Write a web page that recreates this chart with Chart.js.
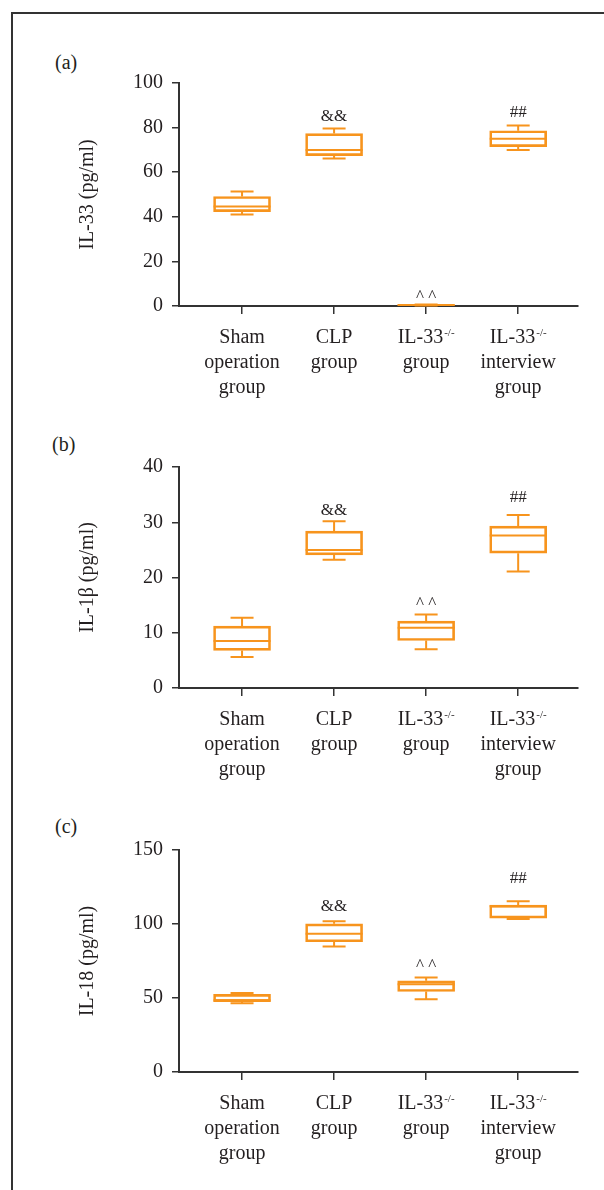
<!DOCTYPE html>
<html>
<head>
<meta charset="utf-8">
<script src="https://cdn.jsdelivr.net/npm/chart.js@4.4.1/dist/chart.umd.min.js"></script>
<style>
  body { margin: 0; background: #fff; width: 604px; height: 1190px; overflow: hidden; position: relative; }
  canvas { position: absolute; left: 0; }
  .frame { position: absolute; left: 11px; top: 12px; right: 0; bottom: 0; border-top: 2px solid #333; border-left: 2px solid #333; }
  .tag { position: absolute; font: 20px 'Liberation Serif', serif; color: #231f20; }
</style>
</head>
<body>
<div class="frame"></div>
<div class="tag" style="left:55px;top:51px">(a)</div>
<div class="tag" style="left:52px;top:433px">(b)</div>
<div class="tag" style="left:55px;top:815px">(c)</div>
<canvas id="chartA" width="604" height="410" style="top:0px"></canvas>
<canvas id="chartB" width="604" height="400" style="top:400px"></canvas>
<canvas id="chartC" width="604" height="400" style="top:790px"></canvas>
<script>
// group names, '|' marks the superscript part
const groupLines = [
    ['Sham', 'operation', 'group'],
    ['CLP', 'group'],
    ['IL-33|-/-', 'group'],
    ['IL-33|-/-', 'interview', 'group']
]

// (a) IL-33
const il33Min = [41.0, 66.1, 0.2, 70.0]
const il33Q1 = [42.3, 67.4, 0.3, 71.5]
const il33Med = [44.6, 70.0, 0.4, 75.0]
const il33Q3 = [49.1, 77.3, 0.6, 78.6]
const il33Max = [51.3, 79.6, 0.7, 80.9]
const il33Marks = ['', '&&', '^ ^', '##']
const il33MarkY = [null, 82.9, 2.1, 84.9]

// (b) IL-1β
const il1bMin = [5.6, 23.2, 7.0, 21.1]
const il1bQ1 = [6.8, 24.1, 8.6, 24.4]
const il1bMed = [8.5, 25.0, 10.9, 27.6]
const il1bQ3 = [11.2, 28.4, 12.1, 29.3]
const il1bMax = [12.7, 30.2, 13.3, 31.3]
const il1bMarks = ['', '&&', '^ ^', '##']
const il1bMarkY = [null, 31.4, 14.4, 33.7]

// (c) IL-18
const il18Min = [46.5, 84.8, 49.2, 103.4]
const il18Q1 = [47.5, 88.0, 54.4, 104.0]
const il18Med = [48.5, 93.4, 59.3, 112.0]
const il18Q3 = [52.5, 100.1, 61.6, 112.8]
const il18Max = [53.3, 101.8, 63.9, 115.3]
const il18Marks = ['', '&&', '^ ^', '##']
const il18MarkY = [null, 108.9, 68.6, 127.9]

const orange = '#f7941d'
const ink = '#231f20'
const axisCol = '#333'
const serif = "'Liberation Serif', serif"

// whiskers, medians, significance marks, and group labels
const boxPlugin = {
    id: 'boxExtras',
    afterDatasetsDraw(chart) {
        const st = chart.options.plugins.boxExtras
        const xs = chart.scales.x, ys = chart.scales.y
        const ctx = chart.ctx
        const half = 28.5, cap = 11.5
        ctx.save()
        ctx.strokeStyle = orange
        ctx.lineWidth = 2
        for (let i = 0; i < st.med.length; i++) {
            const x = xs.getPixelForValue(i)
            const yMin = ys.getPixelForValue(st.min[i])
            const yQ1 = ys.getPixelForValue(st.q1[i])
            const yMed = ys.getPixelForValue(st.med[i])
            const yQ3 = ys.getPixelForValue(st.q3[i])
            const yMax = ys.getPixelForValue(st.max[i])
            ctx.beginPath()
            ctx.moveTo(x - half, yMed); ctx.lineTo(x + half, yMed)
            ctx.moveTo(x, yQ3); ctx.lineTo(x, yMax)
            ctx.moveTo(x - cap, yMax); ctx.lineTo(x + cap, yMax)
            ctx.moveTo(x, yQ1); ctx.lineTo(x, yMin)
            ctx.moveTo(x - cap, yMin); ctx.lineTo(x + cap, yMin)
            ctx.stroke()
        }
        ctx.fillStyle = ink
        ctx.textAlign = 'center'
        ctx.textBaseline = 'alphabetic'
        ctx.font = '17px ' + serif
        st.marks.forEach((m, i) => {
            if (!m) return
            ctx.fillText(m, xs.getPixelForValue(i), ys.getPixelForValue(st.markY[i]))
        })
        ctx.restore()
    },
    afterDraw(chart) {
        const xs = chart.scales.x
        const ctx = chart.ctx
        const base = chart.chartArea.bottom + 37
        ctx.save()
        ctx.fillStyle = ink
        ctx.textBaseline = 'alphabetic'
        ctx.textAlign = 'left'
        groupLines.forEach((lines, i) => {
            const x = xs.getPixelForValue(i)
            lines.forEach((line, k) => {
                const y = base + k * 25
                const parts = line.split('|')
                ctx.font = '20px ' + serif
                const w1 = ctx.measureText(parts[0]).width
                let w2 = 0
                if (parts[1]) {
                    ctx.font = '11px ' + serif
                    w2 = ctx.measureText(parts[1]).width + 1
                }
                const left = x - (w1 + w2) / 2
                ctx.font = '20px ' + serif
                ctx.fillText(parts[0], left, y)
                if (parts[1]) {
                    ctx.font = '11px ' + serif
                    ctx.fillText(parts[1], left + w1 + 1, y - 7)
                }
            })
        })
        ctx.restore()
    }
}

function makePanel(id, title, yMax, yStep, padTop, padBottom, st) {
    new Chart(document.getElementById(id), {
        type: 'bar',
        data: {
            datasets: [{
                data: st.q1.map((v, i) => ({ x: i, y: [v, st.q3[i]] })),
                barThickness: 57,
                borderWidth: 2,
                borderColor: orange,
                backgroundColor: 'rgba(0,0,0,0)',
                borderSkipped: false
            }]
        },
        options: {
            responsive: false,
            animation: false,
            devicePixelRatio: 1,
            layout: { padding: { left: 72, right: 26, top: padTop, bottom: padBottom } },
            plugins: {
                legend: { display: false },
                tooltip: { enabled: false },
                boxExtras: st
            },
            scales: {
                x: {
                    type: 'linear',
                    min: -0.685,
                    max: 3.65,
                    offset: false,
                    afterBuildTicks: (s) => { s.ticks = [0, 1, 2, 3].map(v => ({ value: v })) },
                    afterFit: (s) => { s.height = 10 },
                    ticks: { callback: () => '', autoSkip: false },
                    grid: { offset: false, drawOnChartArea: false, drawTicks: true, tickLength: 8, color: axisCol, lineWidth: 1.5 },
                    border: { display: true, color: axisCol, width: 2 }
                },
                y: {
                    min: 0,
                    max: yMax,
                    afterFit: (s) => { s.width = 107 },
                    ticks: { stepSize: yStep, padding: 9, color: ink, font: { family: serif, size: 20 } },
                    grid: { drawOnChartArea: false, drawTicks: true, tickLength: 7, color: axisCol, lineWidth: 1.5 },
                    border: { display: true, color: axisCol, width: 2 },
                    title: { display: true, text: title, color: ink, font: { family: serif, size: 20 }, padding: { top: 4, bottom: 0 } }
                }
            }
        },
        plugins: [boxPlugin]
    })
}

makePanel('chartA', 'IL-33 (pg/ml)', 100, 20, 83, 94,
    { min: il33Min, q1: il33Q1, med: il33Med, q3: il33Q3, max: il33Max, marks: il33Marks, markY: il33MarkY })
makePanel('chartB', 'IL-1β (pg/ml)', 40, 10, 67, 102,
    { min: il1bMin, q1: il1bQ1, med: il1bMed, q3: il1bQ3, max: il1bMax, marks: il1bMarks, markY: il1bMarkY })
makePanel('chartC', 'IL-18 (pg/ml)', 150, 50, 60, 108,
    { min: il18Min, q1: il18Q1, med: il18Med, q3: il18Q3, max: il18Max, marks: il18Marks, markY: il18MarkY })
</script>
</body>
</html>
